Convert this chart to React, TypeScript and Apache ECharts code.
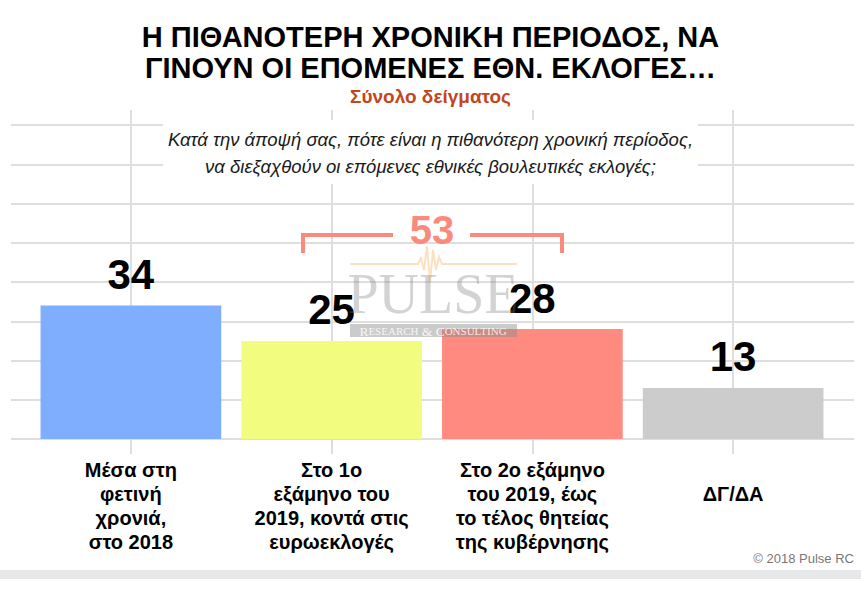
import React, { useEffect, useRef } from "react";
import * as echarts from "echarts";

const titleLines = ["Η ΠΙΘΑΝΟΤΕΡΗ ΧΡΟΝΙΚΗ ΠΕΡΙΟΔΟΣ, ΝΑ", "ΓΙΝΟΥΝ ΟΙ ΕΠΟΜΕΝΕΣ ΕΘΝ. ΕΚΛΟΓΕΣ…"];
const sampleLabel = "Σύνολο δείγματος";
const questionLines = [
  "Κατά την άποψή σας, πότε είναι η πιθανότερη χρονική περίοδος,",
  "να διεξαχθούν οι επόμενες εθνικές βουλευτικές εκλογές;",
];
const categories = [
  "Μέσα στη\nφετινή\nχρονιά,\nστο 2018",
  "Στο 1ο\nεξάμηνο του\n2019, κοντά στις\nευρωεκλογές",
  "Στο 2ο εξάμηνο\nτου 2019, έως\nτο τέλος θητείας\nτης κυβέρνησης",
  "ΔΓ/ΔΑ",
];
const values = [34, 25, 28, 13];
const barColors = ["#80AEFF", "#F2FD80", "#FF8A80", "#CCCCCC"];
const bracketIdx = [1, 2];
const yMin = 0;
const yMax = 80;
const yStep = 10;
const copyright = "© 2018 Pulse RC";

const FONT = '"Liberation Sans", Arial, sans-serif';
const GRID_COLOR = "#DEDEDE";
const SALMON = "#F98A7C";

export default function App() {
  const ref = useRef<HTMLDivElement>(null);

  useEffect(() => {
    if (!ref.current) return;
    const chart = echarts.init(ref.current, undefined, { renderer: "svg" });
    const bracketTotal = bracketIdx.reduce((s, i) => s + values[i], 0);

    chart.setOption({
      animation: false,
      backgroundColor: "#ffffff",
      textStyle: { fontFamily: FONT },
      title: [
        {
          text: titleLines.join("\n"),
          left: "center",
          top: 16,
          textStyle: { fontSize: 29, fontWeight: "bold", lineHeight: 31, color: "#000", fontFamily: FONT },
        },
        {
          text: sampleLabel,
          left: "center",
          top: 80,
          textStyle: { fontSize: 19, fontWeight: "bold", lineHeight: 22, color: "#C4451C", fontFamily: FONT },
        },
        {
          text: questionLines.join("\n"),
          left: "center",
          top: 120,
          padding: [6, 5, 4, 5],
          backgroundColor: "#ffffff",
          textStyle: { fontSize: 18.5, fontStyle: "italic", fontWeight: "normal", lineHeight: 27, color: "#1a1a1a", fontFamily: FONT },
        },
      ],
      grid: [
        { left: 30.5, right: 27.5, top: 125, bottom: 175 },
        { left: 11, right: 7, top: 125, bottom: 175 },
      ],
      xAxis: [
        {
          type: "category",
          gridIndex: 0,
          data: categories,
          axisLine: { show: false },
          axisTick: { show: false },
          axisLabel: {
            interval: 0,
            margin: 19,
            fontSize: 20,
            lineHeight: 24,
            fontWeight: "bold",
            color: "#000",
            fontFamily: FONT,
            formatter: (v: string) => (v.indexOf("\n") < 0 ? "\n" + v : v),
          },
        },
        {
          type: "value",
          gridIndex: 1,
          min: 0,
          max: 1,
          show: false,
        },
        {
          type: "category",
          gridIndex: 0,
          data: categories,
          position: "bottom",
          offset: 15,
          axisLine: { show: false },
          axisLabel: { show: false },
          axisTick: {
            show: true,
            inside: true,
            length: 344,
            alignWithLabel: true,
            lineStyle: { color: GRID_COLOR, width: 2 },
          },
        },
      ],
      yAxis: [
        {
          type: "value",
          gridIndex: 0,
          min: yMin,
          max: yMax,
          interval: yStep,
          show: false,
        },
        {
          type: "value",
          gridIndex: 1,
          min: yMin,
          max: yMax,
          interval: yStep,
          axisLine: { show: false },
          axisTick: { show: false },
          axisLabel: { show: false },
          splitLine: { show: true, lineStyle: { color: GRID_COLOR, width: 2 } },
        },
      ],
      series: [
        {
          type: "bar",
          xAxisIndex: 0,
          yAxisIndex: 0,
          barCategoryGap: "10%",
          data: values.map((v, i) => ({ value: v, itemStyle: { color: barColors[i] } })),
          label: {
            show: true,
            position: "top",
            distance: 10,
            fontSize: 42,
            fontWeight: "bold",
            color: "#000",
            fontFamily: FONT,
          },
          z: 2,
        },
      ],
      graphic: [
        {
          type: "polyline",
          shape: { points: [[303, 253], [303, 235], [393, 235]] },
          style: { stroke: SALMON, lineWidth: 4, fill: null },
          z: 10,
        },
        {
          type: "polyline",
          shape: { points: [[470, 235], [562, 235], [562, 253]] },
          style: { stroke: SALMON, lineWidth: 4, fill: null },
          z: 10,
        },
        {
          type: "text",
          x: 432,
          y: 230,
          style: {
            text: String(bracketTotal),
            fill: SALMON,
            font: `bold 40px ${FONT}`,
            textAlign: "center",
            textVerticalAlign: "middle",
          },
          z: 10,
        },
        // watermark
        {
          type: "polyline",
          shape: {
            points: [
              [350, 264], [418, 264], [421, 258], [424, 270], [427, 246], [430, 282],
              [433, 250], [436, 270], [439, 257], [442, 264], [517, 264],
            ],
          },
          style: { stroke: "rgba(248,196,130,0.5)", lineWidth: 2, fill: null },
          z: 20,
        },
        {
          type: "text",
          x: 433,
          y: 294,
          style: {
            text: "PULSE",
            fill: "rgba(120,120,120,0.33)",
            font: '56px "Liberation Serif", "Times New Roman", serif',
            textAlign: "center",
            textVerticalAlign: "middle",
          },
          z: 20,
        },
        {
          type: "rect",
          shape: { x: 350, y: 324, width: 167, height: 13 },
          style: { fill: "rgba(140,140,140,0.45)" },
          z: 20,
        },
        {
          type: "text",
          x: 433,
          y: 331,
          style: {
            text: "{a|R}{b|ESEARCH} {a|&} {a|C}{b|ONSULTING}",
            textAlign: "center",
            textVerticalAlign: "middle",
            rich: {
              a: { fontSize: 13.5, fill: "rgba(255,255,255,0.85)", fontFamily: '"Liberation Serif", serif' },
              b: { fontSize: 11, fill: "rgba(255,255,255,0.85)", fontFamily: '"Liberation Serif", serif' },
            },
          },
          z: 21,
        },
        {
          type: "text",
          x: 854,
          y: 558,
          style: {
            text: copyright,
            fill: "#777777",
            font: `13px ${FONT}`,
            textAlign: "right",
            textVerticalAlign: "middle",
          },
        },
        {
          type: "rect",
          shape: { x: 0, y: 570, width: 861, height: 9 },
          style: { fill: "#E6E7E9" },
        },
      ],
    });

    return () => chart.dispose();
  }, []);

  return (
    <div
      ref={ref}
      style={{ position: "absolute", left: 0, top: 0, width: 861, height: 614 }}
    />
  );
}
